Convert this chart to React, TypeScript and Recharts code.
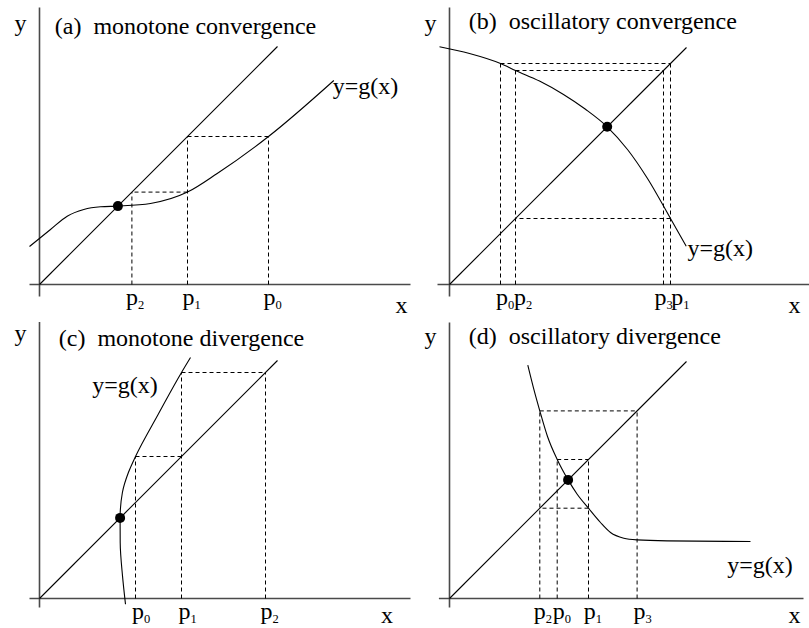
import React from 'react';
import { ComposedChart, XAxis, YAxis, Line, ReferenceLine, ReferenceDot } from 'recharts';

type Pt = { x: number; y: number };

// y = g(x) for each of the four cases (points along the curve, in order)
const curveMonotoneConv: Pt[] = [
  { x: -0.5, y: 1.9 },
  { x: 0.55, y: 2.75 },
  { x: 1.385, y: 3.415 },
  { x: 2.215, y: 3.75 },
  { x: 3.05, y: 3.885 },
  { x: 3.92, y: 3.92 },
  { x: 5.55, y: 4.05 },
  { x: 7.4, y: 4.62 },
  { x: 8.885, y: 5.55 },
  { x: 11.45, y: 7.4 },
  { x: 14.715, y: 10.2 },
];

const curveOscConv: Pt[] = [
  { x: -0.5, y: 11.885 },
  { x: 1.0, y: 11.55 },
  { x: 2.55, y: 11.05 },
  { x: 3.3, y: 10.7 },
  { x: 4.5, y: 10.17 },
  { x: 5.7, y: 9.5 },
  { x: 6.8, y: 8.76 },
  { x: 7.885, y: 7.885 },
  { x: 8.9, y: 6.75 },
  { x: 9.9, y: 5.3 },
  { x: 11.05, y: 3.3 },
  { x: 11.835, y: 1.915 },
];

const curveMonotoneDiv: Pt[] = [
  { x: 4.3, y: -0.285 },
  { x: 4.15, y: 1.13 },
  { x: 4.035, y: 2.8 },
  { x: 4.03, y: 4.03 },
  { x: 4.145, y: 5.3 },
  { x: 4.445, y: 6.3 },
  { x: 4.8, y: 7.1 },
  { x: 5.93, y: 9.2 },
  { x: 7.1, y: 11.3 },
  { x: 7.55, y: 12.05 },
];

const curveOscDiv: Pt[] = [
  { x: 3.915, y: 11.665 },
  { x: 4.215, y: 10.465 },
  { x: 4.515, y: 9.38 },
  { x: 4.9, y: 8.1 },
  { x: 5.385, y: 6.95 },
  { x: 5.93, y: 5.93 },
  { x: 6.385, y: 5.215 },
  { x: 6.95, y: 4.515 },
  { x: 7.55, y: 3.8 },
  { x: 8.05, y: 3.3 },
  { x: 8.715, y: 3.015 },
  { x: 9.38, y: 2.93 },
  { x: 10.885, y: 2.88 },
  { x: 15.05, y: 2.85 },
];

// fixed-point iterates p0, p1, p2, ... with p(n+1) = g(p(n))
const iterMonotoneConv = [11.45, 7.4, 4.62];
const iterOscConv = [2.55, 11.05, 3.3, 10.7];
const iterMonotoneDiv = [4.8, 7.1, 11.3];
const iterOscDiv = [5.385, 6.95, 4.515, 9.38];

// fixed point p = g(p) of each case
const fixedPoints = [3.92, 7.885, 4.03, 5.93];

const panelTags = ['(a)', '(b)', '(c)', '(d)'];
const panelCaptions = [
  'monotone convergence',
  'oscillatory convergence',
  'monotone divergence',
  'oscillatory divergence',
];
const curveName = 'y=g(x)';
const iterateSymbol = 'p';
const xName = 'x';
const yName = 'y';

const FONT = '"Liberation Serif", "Times New Roman", Times, serif';
// 20 px per unit; the half-unit-of-a-pixel shift keeps 1px strokes crisp
const X_DOMAIN: [number, number] = [-2.025, 18.975];
const Y_DOMAIN: [number, number] = [-2.525, 14.475];
const CHART_W = 420;
const CHART_H = 340;

type Layout = {
  left: number;
  top: number;
  curveType: 'monotone' | 'monotoneY';
  xAxis: [number, number];
  yAxis: [number, number];
  diagEnd: number;
  tagAt: Pt;
  yNameAt: Pt;
  xNameAt: Pt;
  curveNameAt: Pt;
  tickDx: number[];
};

const layouts: Layout[] = [
  {
    left: -1, top: -5, curveType: 'monotone', xAxis: [-0.5, 18.55], yAxis: [-0.6, 13.85], diagEnd: 11.9,
    tagAt: { x: 0.765, y: 12.525 }, yNameAt: { x: -0.95, y: 12.675 }, xNameAt: { x: 18.1, y: -1.4 },
    curveNameAt: { x: 14.665, y: 9.55 }, tickDx: [-5, -5, -6],
  },
  {
    left: 409, top: -5, curveType: 'monotone', xAxis: [-0.6, 18.2], yAxis: [-0.6, 13.85], diagEnd: 11.85,
    tagAt: { x: 0.965, y: 12.8 }, yNameAt: { x: -0.95, y: 12.675 }, xNameAt: { x: 17.25, y: -1.4 },
    curveNameAt: { x: 11.9, y: 1.45 }, tickDx: [-4.5, 0.8, -1.5, -9],
  },
  {
    left: -1, top: 309, curveType: 'monotoneY', xAxis: [-0.5, 18.55], yAxis: [-0.45, 13.83], diagEnd: 11.9,
    tagAt: { x: 0.965, y: 12.64 }, yNameAt: { x: -0.95, y: 12.89 }, xNameAt: { x: 17.375, y: -1.22 },
    curveNameAt: { x: 2.635, y: 10.265 }, tickDx: [-3.5, -3, -5],
  },
  {
    left: 409, top: 309, curveType: 'monotone', xAxis: [-0.53, 17.7], yAxis: [-0.45, 13.8], diagEnd: 11.85,
    tagAt: { x: 0.965, y: 12.715 }, yNameAt: { x: -0.95, y: 12.715 }, xNameAt: { x: 17.25, y: -1.22 },
    curveNameAt: { x: 13.885, y: 1.265 }, tickDx: [-4.5, -4.7, -6, -3.5],
  },
];

const curves = [curveMonotoneConv, curveOscConv, curveMonotoneDiv, curveOscDiv];
const iterates = [iterMonotoneConv, iterOscConv, iterMonotoneDiv, iterOscDiv];

// dashed cobweb: vertical at each p(n), horizontal from (p(n), p(n+1)) to the diagonal
function cobweb(p: number[]) {
  const verticals = p.map((v, n) => {
    const tops: number[] = [];
    if (n + 1 < p.length) tops.push(p[n + 1]);
    if (n > 0 || n + 1 >= p.length) tops.push(v);
    return { x: v, top: Math.max(...tops) };
  });
  const horizontals = p.slice(1).map((v, n) => ({ y: v, from: p[n], to: v }));
  return { verticals, horizontals };
}

const textStyle = { fontFamily: FONT, fontSize: 24, fill: '#000' };

function textMark(key: string, at: Pt, render: (cx: number, cy: number) => React.ReactElement) {
  return (
    <ReferenceDot
      key={key}
      x={at.x}
      y={at.y}
      r={1}
      ifOverflow="visible"
      shape={(props: any) => render(props.cx, props.cy)}
    />
  );
}

function Panel({ index }: { index: number }) {
  const L = layouts[index];
  const curve = curves[index];
  const p = iterates[index];
  const fp = fixedPoints[index];
  const { verticals, horizontals } = cobweb(p);
  const dash = { stroke: '#000', strokeWidth: 1, strokeDasharray: '4 3' };
  const axis = { stroke: '#4a4a4a', strokeWidth: 1.6 };

  return (
    <div style={{ position: 'absolute', left: L.left, top: L.top, width: CHART_W, height: CHART_H }}>
      <ComposedChart width={CHART_W} height={CHART_H} margin={{ top: 0, right: 0, bottom: 0, left: 0 }}>
        <XAxis type="number" dataKey="x" domain={X_DOMAIN} hide allowDataOverflow />
        <YAxis type="number" domain={Y_DOMAIN} hide allowDataOverflow />

        <ReferenceLine segment={[{ x: L.xAxis[0], y: 0 }, { x: L.xAxis[1], y: 0 }]} {...axis} ifOverflow="visible" />
        <ReferenceLine segment={[{ x: 0, y: L.yAxis[0] }, { x: 0, y: L.yAxis[1] }]} {...axis} ifOverflow="visible" />

        {verticals.map((v, i) => (
          <ReferenceLine key={`v${i}`} segment={[{ x: v.x, y: 0 }, { x: v.x, y: v.top }]} {...dash} ifOverflow="visible" />
        ))}
        {horizontals.map((h, i) => (
          <ReferenceLine key={`h${i}`} segment={[{ x: h.from, y: h.y }, { x: h.to, y: h.y }]} {...dash} ifOverflow="visible" />
        ))}

        <Line
          data={[{ x: 0, y: 0 }, { x: L.diagEnd, y: L.diagEnd }]}
          dataKey="y"
          type="linear"
          stroke="#000"
          strokeWidth={1.1}
          dot={false}
          activeDot={false}
          isAnimationActive={false}
        />
        <Line
          data={curve}
          dataKey="y"
          type={L.curveType}
          stroke="#000"
          strokeWidth={1.1}
          dot={false}
          activeDot={false}
          isAnimationActive={false}
        />

        <ReferenceDot x={fp} y={fp} r={5} fill="#000" stroke="none" ifOverflow="visible" />

        {textMark('tag', L.tagAt, (cx, cy) => (
          <text x={cx} y={cy} style={{ ...textStyle, whiteSpace: 'pre' }}>
            {`${panelTags[index]}  ${panelCaptions[index]}`}
          </text>
        ))}
        {textMark('yname', L.yNameAt, (cx, cy) => (
          <text x={cx} y={cy} textAnchor="middle" style={textStyle}>{yName}</text>
        ))}
        {textMark('xname', L.xNameAt, (cx, cy) => (
          <text x={cx} y={cy} textAnchor="middle" style={textStyle}>{xName}</text>
        ))}
        {textMark('gname', L.curveNameAt, (cx, cy) => (
          <text x={cx} y={cy} style={textStyle}>{curveName}</text>
        ))}
        {p.map((v, n) =>
          textMark(`p${n}`, { x: v, y: 0 }, (cx, cy) => (
            <text x={cx + L.tickDx[n]} y={cy + 20} style={textStyle}>
              {iterateSymbol}
              <tspan dy={4} style={{ fontSize: 12.5 }}>{n}</tspan>
            </text>
          ))
        )}
      </ComposedChart>
    </div>
  );
}

export default function App() {
  return (
    <div
      style={{
        position: 'absolute',
        left: 0,
        top: 0,
        width: 809,
        height: 628,
        overflow: 'hidden',
        background: '#fff',
      }}
    >
      {[0, 1, 2, 3].map((i) => (
        <Panel key={i} index={i} />
      ))}
    </div>
  );
}
